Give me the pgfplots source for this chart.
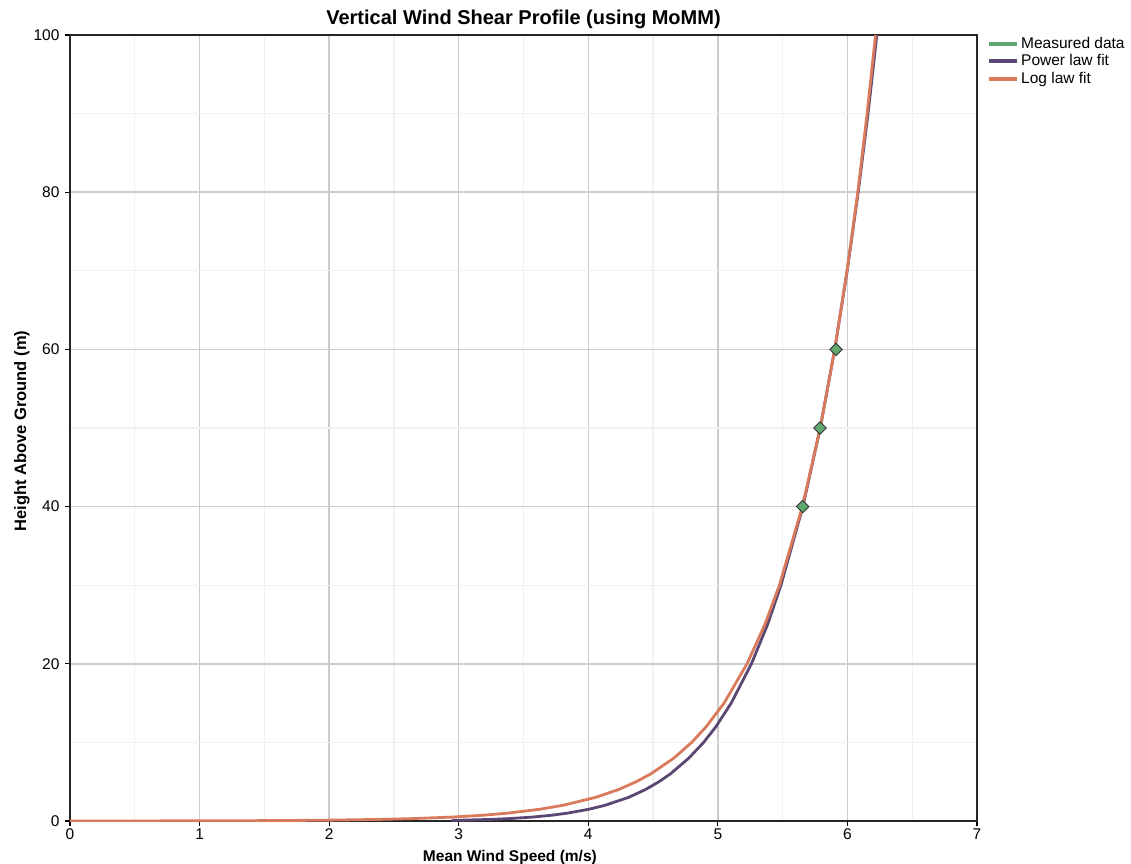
\documentclass[border=0pt]{standalone}
\usepackage{pgfplots}
\pgfplotsset{compat=1.18}
\usepackage{fontspec}
\setmainfont{Liberation Sans}
\definecolor{measgreen}{RGB}{95,168,110}
\definecolor{powpurple}{RGB}{90,72,115}
\definecolor{logorange}{RGB}{217,122,92}
\begin{document}
\begin{tikzpicture}
\begin{axis}[
  at={(0pt,0pt)}, anchor=south west,
  scale only axis, width=907pt, height=786pt,
  xmin=0, xmax=7, ymin=0, ymax=100,
  xtick={0,1,...,7}, ytick={0,20,...,100},
  minor x tick num=1, minor y tick num=1,
  grid=both,
  major grid style={color=black!20, line width=1.4pt},
  minor grid style={color=black!6, line width=1.2pt},
  axis line style={black!85, line width=1.6pt},
  tick style={black, line width=1.2pt},
  major tick length=5pt, minor tick length=0pt,
  tick align=outside, tick pos=left,
  ticklabel style={font=\fontsize{15.5}{17}\selectfont},
  xticklabel style={yshift=1pt},
  yticklabel style={xshift=-2pt},
  /pgf/number format/assume math mode=true,
  title={Vertical Wind Shear Profile (using MoMM)},
  title style={font=\bfseries\fontsize{20}{22}\selectfont, at={(axis description cs:0.5,1)}, anchor=base, yshift=4pt},
  xlabel={Mean Wind Speed (m/s)},
  xlabel style={font=\bfseries\fontsize{15.5}{17}\selectfont, at={(axis description cs:0.485,-0.0509)}, anchor=base},
  ylabel={Height Above Ground (m)},
  ylabel style={font=\bfseries\fontsize{16.5}{18}\selectfont, at={(axis description cs:-0.0485,0.496)}, anchor=base},
  legend style={at={(axis description cs:1,1)}, anchor=north west, xshift=10pt, yshift=-1pt,
    draw=none, fill=none, inner sep=0pt,
    font=\fontsize{15.5}{17}\selectfont, row sep=2.5pt,
    nodes={inner sep=0pt, text height=12pt, text depth=3pt}},
  legend cell align=left,
  legend image code/.code={\draw[#1, line width=4pt] (0pt,0pt) -- (28pt,0pt);},
]
\addlegendimage{measgreen}
\addlegendimage{powpurple}
\addlegendimage{logorange}
\legend{\hspace{2pt}Measured data, \hspace{2pt}Power law fit, \hspace{2pt}Log law fit}

% Power law fit
\addplot[powpurple, line width=2.8pt, forget plot] coordinates {
(2.945,0.08) (3.015,0.1) (3.243,0.2) (3.384,0.3) (3.570,0.5) (3.725,0.75)
(3.839,1) (4.006,1.5) (4.129,2) (4.310,3) (4.441,4) (4.546,5) (4.634,6)
(4.776,8) (4.890,10) (4.985,12) (5.103,15) (5.259,20) (5.384,25) (5.487,30)
(5.656,40) (5.790,50) (5.902,60) (5.998,70) (6.083,80) (6.159,90) (6.227,100)
};

% Log law fit
\addplot[logorange, line width=2.8pt, forget plot] coordinates {
(0,0.0042) (0.111,0.005) (0.538,0.01) (0.966,0.02) (1.531,0.05) (1.958,0.1)
(2.386,0.2) (2.635,0.3) (2.950,0.5) (3.200,0.75) (3.378,1) (3.628,1.5)
(3.805,2) (4.055,3) (4.233,4) (4.370,5) (4.483,6) (4.660,8) (4.798,10)
(4.910,12) (5.048,15) (5.225,20) (5.363,25) (5.475,30) (5.652,40) (5.790,50)
(5.902,60) (5.997,70) (6.080,80) (6.152,90) (6.217,100)
};

% Measured data
\addplot[only marks, mark=square*, mark size=4.4pt,
  mark options={rotate=45, fill=measgreen, draw=black!80, line width=0.9pt}, forget plot] coordinates {
(5.655,40) (5.788,50) (5.912,60)
};
\end{axis}
\pgfresetboundingbox
\useasboundingbox (-70pt,-42pt) rectangle (1061pt,821pt);
\end{tikzpicture}
\end{document}
